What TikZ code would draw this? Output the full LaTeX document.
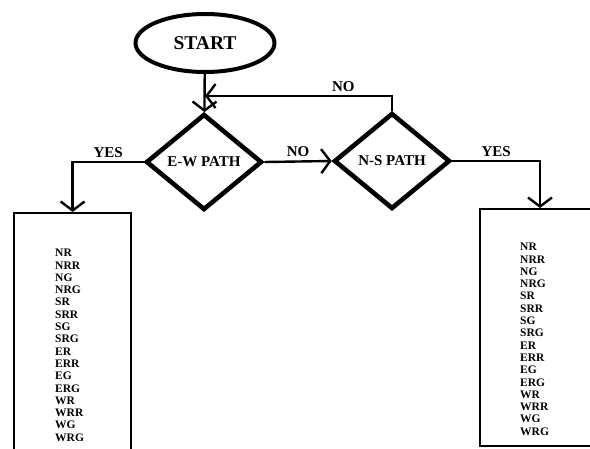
\documentclass[tikz,border=0pt]{standalone}
\usepackage{fontspec}
\setmainfont{Liberation Serif}
\usetikzlibrary{shapes.geometric, arrows.meta, positioning}

\begin{document}
\begin{tikzpicture}[x=1pt, y=-1pt, >={Straight Barb[length=9pt,width=24pt]},
    startnode/.style={ellipse, draw, line width=4pt, minimum width=139pt, minimum height=58pt,
        font=\fontsize{19.5}{19.5}\selectfont\bfseries},
    decision/.style={diamond, draw, line width=4.6pt, minimum width=116pt, minimum height=96pt,
        inner sep=0pt, aspect=1.2, font=\fontsize{15}{15}\selectfont\bfseries},
    flow/.style={line width=2.4pt},
    sigbox/.style={draw, line width=2.2pt, rectangle, anchor=north west},
    siglist/.style={align=left, inner sep=0pt, anchor=north west,
        font=\fontsize{11.5}{12.3}\selectfont\bfseries},
    lbl/.style={font=\fontsize{15}{15}\selectfont\bfseries}]

    % 1. Khung hình
    \clip (0, 0) rectangle (590, 448);

    % 2. Các khối
    \node[startnode] (start) at (205, 43) {START};
    \node[decision] (ew) at (204, 162) {E-W PATH};
    \node[decision] (ns) at (392, 161) {N-S PATH};
    \node[sigbox, minimum width=117pt, minimum height=250pt] (lbox) at (13, 212) {};
    \node[sigbox, minimum width=150pt, minimum height=237pt] (rbox) at (479, 208) {};

    % Danh sách tín hiệu
    \node[siglist] (lsig) at (55, 249) {NR\\NRR\\NG\\NRG\\SR\\SRR\\SG\\SRG\\ER\\ERR\\EG\\ERG\\WR\\WRR\\WG\\WRG};
    \node[siglist] (rsig) at (520, 243) {NR\\NRR\\NG\\NRG\\SR\\SRR\\SG\\SRG\\ER\\ERR\\EG\\ERG\\WR\\WRR\\WG\\WRG};

    % 3. Đường nối
    \coordinate (join) at (205, 96);
    \coordinate (rin) at ([xshift=61pt]rbox.north west);
    \draw[flow, ->] (start) -- (ew);
    \draw[flow, ->] (ns.north) |- (join) node[lbl, pos=0.63, above] {NO};
    \draw[flow, ->] (ew.east) -- (ns.west) node[lbl, midway, above] {NO};
    \draw[flow, ->] (ew.west) -| (lbox.north) node[lbl, pos=0.25, above] {YES};
    \draw[flow, ->] (ns.east) -| (rin) node[lbl, pos=0.25, above] {YES};

\end{tikzpicture}
\end{document}
